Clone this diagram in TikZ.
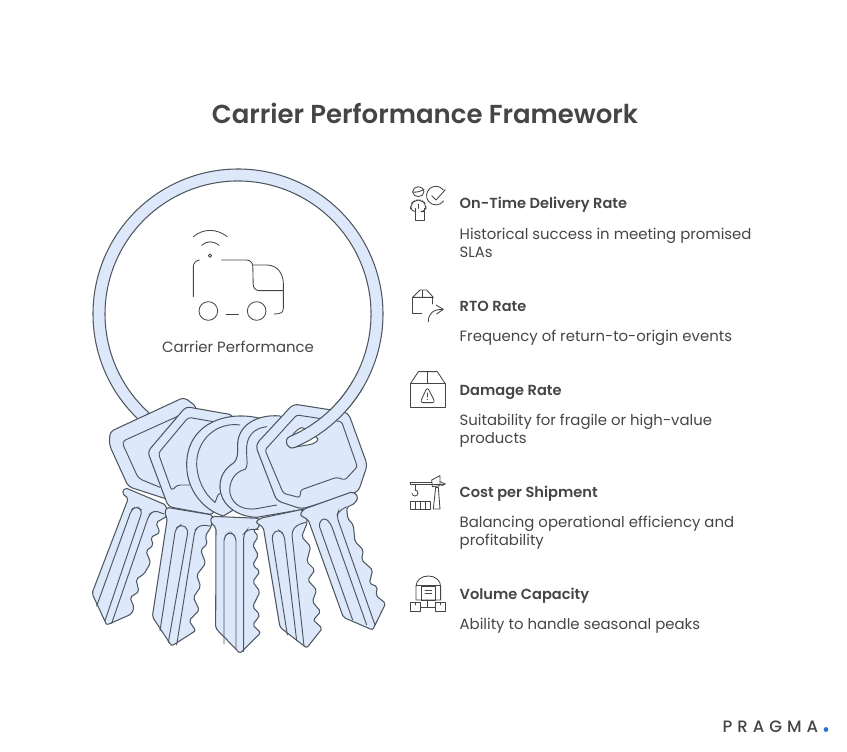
\documentclass[tikz,border=0pt]{standalone}
\usepackage{fontspec}
\setmainfont{Poppins}
\newfontfamily\popb{Poppins SemiBold}
\newfontfamily\pragfont{Poppins Medium}[LetterSpace=30]
\definecolor{keyfill}{HTML}{DDE9FB}
\definecolor{keyline}{HTML}{4F565F}
\definecolor{inkc}{HTML}{454545}
\definecolor{dotblue}{HTML}{2F6FDE}
\tikzset{
  keyshape/.style={draw=keyline,fill=keyfill,line width=1.05pt,line join=round,rounded corners=4pt},
  keygroove/.style={draw=keyline,line width=0.95pt,rounded corners=4pt,line cap=round},
  iconline/.style={draw=inkc,line width=0.85pt,line cap=round,line join=round},
  headtext/.style={inkc,font=\popb\fontsize{14.6}{16}\selectfont,anchor=base west,inner sep=0pt},
  bodytext/.style={inkc,font=\fontsize{14.9}{16}\selectfont,anchor=base west,inner sep=0pt},
}
\begin{document}
\begin{tikzpicture}[x=1pt,y=-1pt]
\useasboundingbox (0,0) rectangle (847,752);
% ring (back part)
\path[keyshape,rounded corners=0pt] ([shift={(132:145)}]238,314) arc[start angle=132,end angle=427,radius=145]
  -- ([shift={(67:133)}]238,314) arc[start angle=427,end angle=132,radius=133] -- cycle;
\begin{scope}[shift={(80,390)},x=0.33333pt,y=-0.33333pt]
% heads
\path[keyshape] (350,50) -- (312,22) -- (90,125) -- (88,165) -- (145,290) -- (300,340) -- cycle;
\path[keygroove] (295,78) -- (125,155) -- (175,265) -- (240,292);
\path[keyshape] (460,75) -- (318,50) -- (203,185) -- (265,350) -- (400,375) -- cycle;
\path[keygroove,rounded corners=3pt] (400,95) -- (325,82) -- (235,190) -- (275,302) -- (292,285) -- (330,285);
\path[keyshape,rounded corners=0pt] (540,85) .. controls (440,60) and (320,100) .. (320,225) .. controls (320,300) and (370,360) .. (430,378) -- (560,300) -- cycle;
\path[keygroove,rounded corners=0pt] (480,105) .. controls (410,95) and (348,150) .. (350,225) .. controls (352,265) and (370,310) .. (405,337) .. controls (412,325) and (410,315) .. (420,310);
\path[keyshape,rounded corners=0pt] (600,78) .. controls (540,72) and (470,100) .. (473,170) .. controls (474,195) and (472,205) .. (462,218) .. controls (435,235) and (418,260) .. (420,295) .. controls (424,345) and (470,380) .. (530,382) -- (670,358) -- (620,120) -- cycle;
\path[keygroove,rounded corners=0pt] (560,110) .. controls (520,115) and (497,140) .. (500,185) .. controls (500,215) and (505,228) .. (495,238) .. controls (465,245) and (445,275) .. (450,310) .. controls (458,345) and (490,362) .. (530,356) -- (590,345);
\path[keyshape,rounded corners=5pt] (640,42) -- (526,165) -- (590,332) -- (665,357) -- (835,305) -- (862,225) -- (805,68) -- cycle;
\path[keygroove,fill=keyfill,rounded corners=2.5pt] (650,75) -- (555,180) -- (610,310) -- (660,323) -- (662,300) -- (770,262) -- (795,270) -- (832,230) -- (785,95) -- cycle;
% hole
\path[draw=keyline,fill=white,line width=1pt,rounded corners=3pt] (640,130) -- (665,110) -- (718,148) -- (700,162) -- (640,172) -- (628,155) -- cycle;
% blades
\path[keyshape,rounded corners=2pt] (135,293) -- (126,310) -- (145,325) -- (36,610) -- (80,705) -- (155,672) -- (162,652) -- (150,622) -- (177,605) -- (168,568) -- (192,552) -- (212,518) -- (198,483) -- (220,466) -- (212,442) -- (240,428) -- (228,398) -- (262,378) -- (258,345) -- cycle;
\path[keygroove] (50,648) -- (155,358) -- (170,349) -- (187,362) -- (75,692);
\path[keygroove] (95,700) -- (207,375) -- (222,361) -- (252,372);
\path[keyshape,rounded corners=2pt] (260,352) -- (254,372) -- (262,385) -- (217,680) -- (275,768) -- (347,722) -- (327,692) -- (358,660) -- (340,622) -- (362,590) -- (350,555) -- (377,520) -- (362,480) -- (382,462) -- (376,438) -- (395,408) -- (398,375) -- cycle;
\path[keygroove] (240,722) -- (287,415) -- (305,403) -- (325,418) -- (265,757);
\path[keygroove] (290,765) -- (345,420) -- (360,405) -- (392,408);
\path[keyshape,rounded corners=2pt] (397,379) -- (390,395) -- (408,413) -- (407,715) -- (480,790) -- (542,728) -- (518,705) -- (540,675) -- (518,650) -- (540,605) -- (518,575) -- (540,545) -- (518,525) -- (535,495) -- (518,465) -- (535,440) -- (520,420) -- (537,415) -- (537,385) -- cycle;
\path[keygroove] (432,762) -- (432,440) -- (450,425) -- (468,440) -- (468,778);
\path[keygroove] (491,785) -- (491,432) -- (503,418) -- (535,418);
\path[keyshape,rounded corners=2pt] (540,385) -- (527,397) -- (550,412) -- (600,712) -- (680,774) -- (727,715) -- (700,690) -- (722,665) -- (697,635) -- (710,600) -- (683,570) -- (705,540) -- (680,515) -- (692,470) -- (665,440) -- (683,395) -- (668,358) -- cycle;
\path[keygroove] (622,735) -- (575,435) -- (593,418) -- (612,432) -- (650,752);
\path[keygroove] (672,768) -- (635,425) -- (650,405) -- (678,397);
\path[keyshape,rounded corners=2pt] (670,358) -- (660,375) -- (685,390) -- (790,682) -- (878,720) -- (917,640) -- (888,617) -- (892,590) -- (868,580) -- (878,540) -- (845,510) -- (850,480) -- (825,455) -- (820,405) -- (803,385) -- (800,352) -- (825,340) -- (835,320) -- (818,305) -- cycle;
\path[keygroove] (818,690) -- (715,400) -- (733,382) -- (752,400) -- (860,705);
\path[keygroove] (885,705) -- (770,378) -- (775,365) -- (800,350);
\end{scope}
% ring end that passes through the key's hole
\fill[keyfill] ([shift={(30:145)}]238,314) arc[start angle=30,end angle=67,radius=145] .. controls (287.3,450.6) and (282.6,439.5) .. ([shift={(67:133)}]238,314) arc[start angle=67,end angle=30,radius=133] -- cycle;
\draw[keyline,line width=1.05pt] ([shift={(30:145)}]238,314) arc[start angle=30,end angle=67,radius=145] .. controls (287.3,450.6) and (282.6,439.5) .. ([shift={(67:133)}]238,314) arc[start angle=67,end angle=30,radius=133];
% truck icon
\begin{scope}[shift={(150,220)},x=0.33333pt,y=-0.33333pt,iconline]
\draw (130,50) .. controls (160,25) and (200,25) .. (232,50);
\draw (155,76) .. controls (170,62) and (190,62) .. (207,76);
\draw (180,107) circle[radius=5];
\draw[rounded corners=6pt] (148,120) -- (130,122) -- (130,230);
\draw[rounded corners=6pt] (215,120) -- (308,120) -- (310,212) -- (400,212);
\draw (310,135) -- (350,135) .. controls (385,135) and (400,165) .. (400,190) -- (400,265) .. controls (400,278) and (392,282) .. (372,282);
\draw (175,273) circle[radius=28];
\draw (320,273) circle[radius=28];
\draw (228,283) -- (265,283);
\end{scope}
% on-time icon
\begin{scope}[shift={(400,180)},x=0.33333pt,y=-0.33333pt,iconline]
\draw (55,35) ellipse[x radius=17,y radius=15];
\draw (38,36) .. controls (50,38) and (62,34) .. (72,28);
\draw[rounded corners=5pt] (45,95) -- (32,95) -- (32,72) -- (46,60) -- (64,60) -- (78,72) -- (78,95) -- (72,95);
\draw (45,85) -- (45,122) -- (72,122) -- (72,85);
\draw (55,72) -- (55,85);
\draw (130,30) arc[start angle=-37,end angle=-325,radius=28];
\draw (95,47) -- (108,60) -- (136,29);
\end{scope}
% RTO icon
\begin{scope}[shift={(400,180)},x=0.33333pt,y=-0.33333pt,iconline]
\draw (38,352) -- (60,330) -- (80,330) -- (100,352) -- cycle;
\draw (68,332) -- (68,352);
\draw (38,352) -- (38,400) -- (65,400);
\draw (97,352) -- (97,372);
\draw (85,425) .. controls (85,400) and (100,388) .. (128,388);
\draw (108,375) -- (130,388) -- (110,402);
\end{scope}
% damage icon
\begin{scope}[shift={(400,365)},x=0.33333pt,y=-0.33333pt,iconline]
\draw (32,55) rectangle (135,128);
\draw (32,55) -- (55,20) -- (112,20) -- (135,55);
\draw (83,20) -- (83,55);
\draw[rounded corners=3pt] (82,66) -- (60,113) -- (106,113) -- cycle;
\draw (82,84) -- (82,96);
\fill[inkc] (82,103) circle[radius=2];
\end{scope}
% crane icon
\begin{scope}[shift={(400,365)},x=0.33333pt,y=-0.33333pt,iconline]
\draw (30,352) -- (95,352);
\draw (30,352) -- (30,358) -- (130,358);
\draw (100,432) -- (107,367) -- (115,367) -- (120,432) -- cycle;
\draw (95,345) -- (120,332) -- (120,362) -- (97,365) -- cycle;
\draw (120,350) -- (136,357) -- (125,362);
\draw (45,358) -- (45,375);
\draw (45,375) arc[start angle=-90,end angle=170,radius=9];
\draw (32,410) rectangle (92,432);
\draw (47,410) -- (47,432) (62,410) -- (62,432) (77,410) -- (77,432);
\end{scope}
% warehouse icon
\begin{scope}[shift={(400,570)},x=0.33333pt,y=-0.33333pt,iconline]
\draw (48,90) -- (48,50) .. controls (48,30) and (65,18) .. (85,18) .. controls (105,18) and (122,30) .. (122,50) -- (122,90) -- cycle;
\draw (48,45) -- (122,45);
\draw (65,50) rectangle (105,90);
\draw (75,60) -- (95,60) (75,70) -- (95,70);
\draw (83,90) -- (83,112);
\draw (62,112) -- (105,112);
\draw (30,97) rectangle (60,125);
\draw (107,97) rectangle (137,125);
\draw (45,97) -- (45,105) (122,97) -- (122,105);
\end{scope}
% texts
\node[inkc,font=\popb\fontsize{26}{30}\selectfont,anchor=base,inner sep=0pt] (title) at (425,124) {Carrier Performance Framework};
\node[inkc,font=\fontsize{14.9}{16}\selectfont,anchor=base,inner sep=0pt] (carrier) at (238,352) {Carrier Performance};
\node[headtext] (h1) at (459.5,208.5) {On-Time Delivery Rate};
\node[bodytext] (b1a) at (459.5,239.5) {Historical success in meeting promised};
\node[bodytext] (b1b) at (459.5,257.5) {SLAs};
\node[headtext] (h2) at (459.5,311) {RTO Rate};
\node[bodytext] (b2) at (459.5,341) {Frequency of return-to-origin events};
\node[headtext] (h3) at (459.5,395) {Damage Rate};
\node[bodytext] (b3a) at (459.5,425) {Suitability for fragile or high-value};
\node[bodytext] (b3b) at (459.5,443) {products};
\node[headtext] (h4) at (459.5,497) {Cost per Shipment};
\node[bodytext] (b4a) at (459.5,527) {Balancing operational efficiency and};
\node[bodytext] (b4b) at (459.5,545) {profitability};
\node[headtext] (h5) at (459.5,599) {Volume Capacity};
\node[bodytext] (b5) at (459.5,629) {Ability to handle seasonal peaks};
\node[inkc,font=\pragfont\fontsize{16.5}{18}\selectfont,anchor=base west,inner sep=0pt] (prag) at (722.5,732) {PRAGMA};
\fill[dotblue] (826,729.5) circle[radius=2.4];
\end{tikzpicture}
\end{document}
